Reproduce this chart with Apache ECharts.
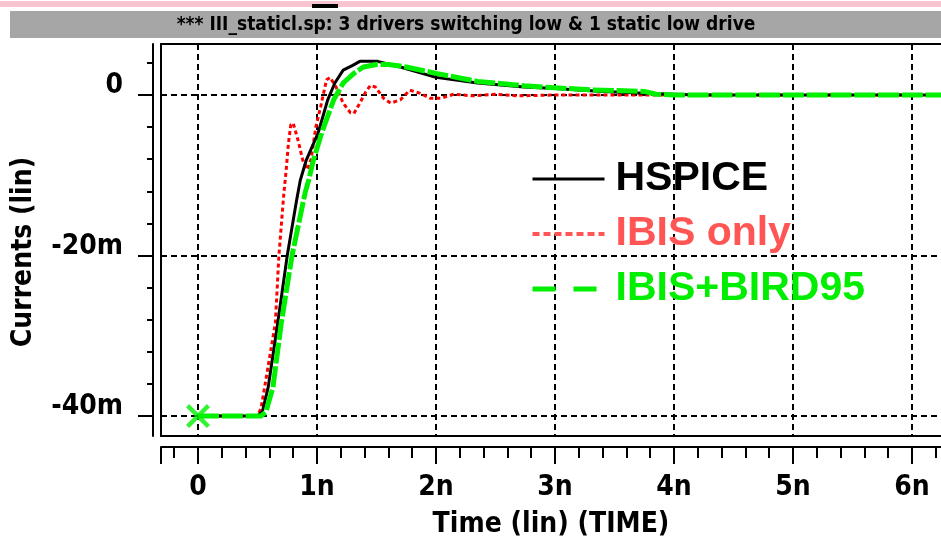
<!DOCTYPE html>
<html>
<head>
<meta charset="utf-8">
<script src="https://cdn.jsdelivr.net/npm/echarts@6/dist/echarts.min.js"></script>
<style>
  html, body { margin: 0; padding: 0; background: #ffffff; }
  #chart { width: 941px; height: 544px; }
</style>
</head>
<body>
<div id="chart"></div>
<script>
// ---- data (time in ns, current in mA) ----
const tHspice = [0, 0.5, 0.54, 0.59, 0.67, 0.75, 0.83, 0.86, 0.91, 1.01, 1.09, 1.15, 1.22, 1.30, 1.36, 1.51, 1.70, 2.0, 2.35, 2.74, 3.0, 3.4, 3.8, 4.2, 6.3];
const iHspice = [-40, -40, -39.5, -36.4, -28.4, -20, -13, -10.6, -8.1, -4.7, -0.6, 1.5, 3.1, 3.7, 4.2, 4.2, 3.5, 2.2, 1.5, 1.0, 0.8, 0.45, 0.2, 0, 0];

const tIbis = [0, 0.5, 0.53, 0.56, 0.65, 0.68, 0.72, 0.74, 0.76, 0.78, 0.80, 0.84, 0.88, 0.92, 0.95, 0.99, 1.03, 1.08, 1.11, 1.16, 1.22, 1.28, 1.31, 1.36, 1.41, 1.45, 1.49, 1.56, 1.62, 1.70, 1.78, 1.87, 1.95, 2.04, 2.15, 2.3, 2.5, 2.7, 3.0, 6.3];
const iIbis = [-40, -40, -39, -36.4, -28.4, -20, -12.5, -9.5, -6, -3.7, -3.5, -5.6, -8.1, -9.3, -8, -4, -1.5, 1.9, 2.2, 1.0, -1, -2.2, -2.3, -1, 0.4, 1.2, 1.0, -0.4, -1, -0.6, 0.6, 0.2, -0.4, -0.4, 0.1, -0.1, 0.1, -0.1, 0, 0];

const tBird = [0, 0.53, 0.57, 0.63, 0.70, 0.79, 0.90, 0.93, 0.97, 1.04, 1.14, 1.22, 1.31, 1.39, 1.50, 1.60, 1.75, 2.0, 2.35, 2.74, 3.0, 3.3, 3.75, 3.85, 4.0, 6.3];
const iBird = [-40, -40, -39.5, -36.4, -28.4, -20, -12.2, -10.6, -8.1, -4.7, -0.6, 1.5, 2.7, 3.5, 3.8, 3.8, 3.5, 2.7, 1.7, 1.15, 0.9, 0.65, 0.45, 0.1, 0, 0];

const markerT = [0];
const markerI = [-40];

const seriesNames = ['HSPICE', 'IBIS only', 'IBIS+BIRD95'];
const xMajorTicks = [0, 1, 2, 3, 4, 5, 6];
const xTickLabels = ['0', '1n', '2n', '3n', '4n', '5n', '6n'];
const yMajorTicks = [-40, -20, 0];
const yTickLabels = ['-40m', '-20m', '0'];
const titleText = '*** III_staticl.sp: 3 drivers switching low & 1 static low drive';
const xTitle = 'Time (lin) (TIME)';
const yTitle = 'Currents (lin)';

// ---- helpers ----
const zip = (a, b) => a.map((v, i) => [v, b[i]]);
const X_MIN = -0.311, X_MAX = 6.244, Y_MIN = -42.49, Y_MAX = 6.36;
const xMinorTicks = [];
for (let k = -1; k <= 31; k++) { const v = +(k * 0.2).toFixed(1); if (Math.abs(v - Math.round(v)) > 1e-6) xMinorTicks.push(v); }
const yMinorTicks = [];
for (let v = -40; v <= 4; v += 4) { if (v % 20 !== 0) yMinorTicks.push(v); }

const NARROW = "'Liberation Sans Narrow', 'DejaVu Sans Condensed', 'Arial Narrow', sans-serif";
const BLACK = '#000000';
const gridDash = { show: true, lineStyle: { color: BLACK, width: 2, type: [6, 4] } };
const noSymbol = { color: 'rgba(0,0,0,0)', borderColor: 'rgba(0,0,0,0)', borderWidth: 0 };

const chart = echarts.init(document.getElementById('chart'), null, { renderer: 'canvas' });

const axisBase = { type: 'value', min: X_MIN, max: X_MAX, gridIndex: 0 };
const yBase = { type: 'value', min: Y_MIN, max: Y_MAX, gridIndex: 0 };

chart.setOption({
  animation: false,
  backgroundColor: '#ffffff',
  grid: { left: 161, top: 44, right: 0, bottom: 108, show: false },
  graphic: [
    { type: 'rect', shape: { x: 0, y: 1, width: 941, height: 6 }, style: { fill: '#f8c4cf' }, silent: true },
    { type: 'rect', shape: { x: 312, y: 4, width: 26, height: 4 }, style: { fill: '#000' }, silent: true },
    { type: 'rect', shape: { x: 10, y: 11, width: 931, height: 27 }, style: { fill: '#a6a6a6' }, silent: true },
    { type: 'text', x: 466, y: 25, style: { text: titleText, fill: BLACK, font: 'bold 19px ' + NARROW, textAlign: 'center', textVerticalAlign: 'middle' }, silent: true },
    { type: 'text', x: 551, y: 525, style: { text: xTitle, fill: BLACK, font: 'bold 28px ' + NARROW, textAlign: 'center', textVerticalAlign: 'middle' }, silent: true },
    { type: 'text', x: 24, y: 252, rotation: Math.PI / 2, style: { text: yTitle, fill: BLACK, font: 'bold 28px ' + NARROW, textAlign: 'center', textVerticalAlign: 'middle' }, silent: true }
  ],
  legend: {
    orient: 'vertical', left: 530, top: 158, padding: 0,
    itemWidth: 72, itemHeight: 14, itemGap: 13,
    selectedMode: false,
    itemStyle: noSymbol,
    textStyle: { fontFamily: 'Liberation Sans, Arial, sans-serif', fontWeight: 'bold', fontSize: 41, lineHeight: 42, padding: [0, 0, 0, 6] },
    data: [
      { name: seriesNames[0], itemStyle: noSymbol, textStyle: { color: '#000000' }, lineStyle: { color: '#000000', width: 3, type: 'solid' } },
      { name: seriesNames[1], itemStyle: noSymbol, textStyle: { color: '#ff5555' }, lineStyle: { color: '#ff5555', width: 4, type: [7, 4] } },
      { name: seriesNames[2], itemStyle: noSymbol, textStyle: { color: '#00ee00' }, lineStyle: { color: '#00ee00', width: 5, type: [23, 18] } }
    ]
  },
  xAxis: [
    Object.assign({}, axisBase, { position: 'bottom', axisLine: { show: true, onZero: false, lineStyle: { color: BLACK, width: 2 } }, axisTick: { show: false, customValues: xMajorTicks }, axisLabel: { show: false }, splitLine: gridDash }),
    Object.assign({}, axisBase, { position: 'bottom', offset: 11, axisLine: { show: true, onZero: false, lineStyle: { color: BLACK, width: 2 } },
      axisTick: { show: true, length: 17, customValues: [X_MIN].concat(xMajorTicks), lineStyle: { color: BLACK, width: 2 } },
      axisLabel: { show: true, customValues: xMajorTicks, margin: 27, color: BLACK, fontFamily: NARROW, fontWeight: 'bold', fontSize: 28, formatter: v => xTickLabels[xMajorTicks.indexOf(Math.round(v))] },
      splitLine: { show: false } }),
    Object.assign({}, axisBase, { position: 'bottom', offset: 11, axisLine: { show: false, onZero: false },
      axisTick: { show: true, length: 11, customValues: xMinorTicks, lineStyle: { color: BLACK, width: 2 } },
      axisLabel: { show: false }, splitLine: { show: false } }),
    Object.assign({}, axisBase, { position: 'top', axisLine: { show: true, onZero: false, lineStyle: { color: BLACK, width: 2 } }, axisTick: { show: false }, axisLabel: { show: false }, splitLine: { show: false } })
  ],
  yAxis: [
    Object.assign({}, yBase, { position: 'left', axisLine: { show: true, onZero: false, lineStyle: { color: BLACK, width: 2 } }, axisTick: { show: false, customValues: yMajorTicks }, axisLabel: { show: false }, splitLine: gridDash }),
    Object.assign({}, yBase, { position: 'left', offset: 8, axisLine: { show: true, onZero: false, lineStyle: { color: BLACK, width: 2 } },
      axisTick: { show: true, length: 15, customValues: yMajorTicks, lineStyle: { color: BLACK, width: 2 } },
      axisLabel: { show: true, customValues: yMajorTicks, margin: 30, color: BLACK, fontFamily: NARROW, fontWeight: 'bold', fontSize: 28, verticalAlign: 'bottom', lineHeight: 18, formatter: v => yTickLabels[yMajorTicks.indexOf(Math.round(v))] },
      splitLine: { show: false } }),
    Object.assign({}, yBase, { position: 'left', offset: 8, axisLine: { show: false, onZero: false },
      axisTick: { show: true, length: 6, customValues: yMinorTicks, lineStyle: { color: BLACK, width: 2 } },
      axisLabel: { show: false }, splitLine: { show: false } })
  ],
  series: [
    { name: seriesNames[1], type: 'line', xAxisIndex: 0, yAxisIndex: 0, data: zip(tIbis, iIbis), symbol: 'none', z: 2,
      lineStyle: { color: '#ff0000', width: 3, type: [4, 3] }, itemStyle: { color: '#ff0000' } },
    { name: seriesNames[0], type: 'line', xAxisIndex: 0, yAxisIndex: 0, data: zip(tHspice, iHspice), symbol: 'none', z: 3,
      lineStyle: { color: '#000000', width: 3, type: 'solid' }, itemStyle: { color: '#000000' } },
    { name: seriesNames[2], type: 'line', xAxisIndex: 0, yAxisIndex: 0, data: zip(tBird, iBird), symbol: 'none', z: 4,
      lineStyle: { color: '#00f000', width: 5, type: [21, 2.8] }, itemStyle: { color: '#00f000' } },
    { name: 'marker', type: 'scatter', xAxisIndex: 0, yAxisIndex: 0, data: zip(markerT, markerI), z: 5,
      symbol: 'path://M0,1.3L1.3,0L5,3.7L8.7,0L10,1.3L6.3,5L10,8.7L8.7,10L5,6.3L1.3,10L0,8.7L3.7,5Z',
      symbolSize: 24, itemStyle: { color: '#00f000' } }
  ]
});
</script>
</body>
</html>
